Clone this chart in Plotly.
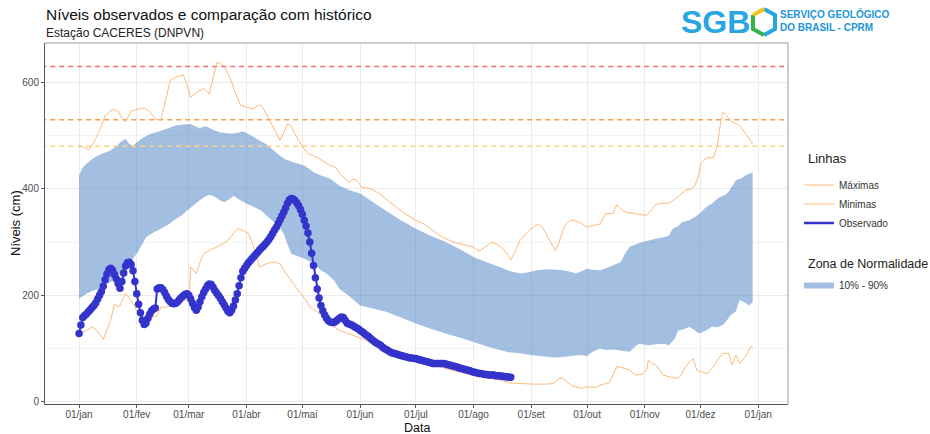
import pandas as pd
import plotly.graph_objects as go

# ---------------- data ----------------
base_date = "2025-01-01"

obs_values = [128, 144, 158, 162, 165, 169, 173, 177, 181, 186, 193, 200, 207, 217, 229, 240, 248, 251, 247, 239,
              231, 222, 213, 226, 242, 255, 261, 262, 258, 246, 226, 203, 183, 167, 153, 145, 148, 157, 165, 171,
              174, 176, 212, 214, 214, 211, 205, 198, 192, 188, 185, 184, 185, 188, 192, 196, 199, 202, 203, 200,
              193, 185, 177, 172, 178, 188, 197, 205, 212, 218, 221, 220, 215, 209, 204, 199, 194, 188, 182, 176,
              170, 167, 172, 180, 191, 203, 218, 233, 245, 251, 256, 261, 265, 269, 273, 277, 281, 285, 289, 292,
              296, 300, 305, 310, 316, 322, 328, 335, 342, 349, 356, 364, 373, 379, 382, 381, 378, 374, 368, 361,
              352, 341, 330, 317, 300, 279, 256, 233, 212, 195, 181, 171, 163, 157, 152, 150, 149, 149, 151, 154,
              157, 159, 158, 153, 148, 146, 145, 143, 141, 139, 137, 134, 132, 129, 126, 124, 121, 118, 115, 112,
              110, 108, 106, 103, 100, 98, 96, 94, 92, 91, 90, 89, 88, 87, 86, 85, 84, 83, 82, 82,
              81, 81, 80, 79, 78, 77, 76, 75, 74, 73, 72, 72, 72, 72, 72, 72, 72, 71, 70, 69,
              68, 67, 66, 65, 64, 63, 62, 61, 60, 59, 58, 57, 56, 55, 54, 53, 53, 52, 51, 51,
              50, 50, 50, 50, 49, 49, 49, 48, 48, 47, 47, 46, 46]

upper_days = [0, 2, 4, 7, 10, 13, 17, 20, 23, 25, 27, 29, 31, 34, 38, 41, 44, 48, 52, 56, 60, 62, 65, 67, 69, 72,
              76, 80, 83, 86, 88, 91, 94, 97, 101, 104, 108, 111, 115, 118, 121, 124, 126, 130, 135, 140, 145, 151,
              158, 165, 173, 181, 189, 197, 205, 212, 219, 226, 231, 237, 241, 246, 251, 256, 260, 264, 267, 270,
              273, 276, 280, 285, 288, 291, 294, 296, 301, 306, 310, 314, 317, 319, 322, 324, 328, 331, 334, 337,
              340, 344, 347, 349, 351, 353, 356, 358, 360, 362]
upper_vals = [425, 440, 447, 456, 462, 467, 472, 480, 490, 494, 484, 481, 487, 495, 503, 506, 509, 514, 519, 521,
              522, 518, 514, 517, 516, 511, 506, 504, 504, 506, 508, 503, 497, 491, 483, 474, 462, 455, 450, 447,
              444, 437, 431, 425, 419, 406, 398, 391, 375, 359, 341, 325, 312, 300, 286, 272, 262, 253, 246, 241,
              243, 247, 249, 248, 247, 244, 241, 245, 250, 248, 247, 253, 258, 262, 282, 291, 298, 303, 306, 309,
              312, 325, 330, 337, 341, 347, 355, 366, 372, 384, 388, 394, 405, 416, 420, 425, 428, 431]

lower_days = [0, 2, 4, 7, 10, 13, 17, 20, 24, 27, 31, 34, 36, 40, 44, 48, 51, 55, 58, 62, 65, 68, 70, 73, 76, 78,
              81, 83, 86, 90, 94, 98, 101, 105, 108, 110, 112, 114, 118, 121, 126, 130, 133, 137, 140, 145, 151,
              158, 165, 173, 181, 189, 197, 205, 212, 219, 226, 231, 237, 245, 250, 255, 260, 264, 267, 270, 273,
              276, 280, 283, 287, 291, 296, 299, 301, 306, 310, 314, 317, 320, 322, 325, 328, 331, 333, 337, 340,
              343, 346, 348, 350, 353, 355, 358, 360, 362]
lower_vals = [194, 198, 203, 208, 212, 218, 225, 233, 247, 260, 278, 296, 309, 318, 325, 333, 341, 350, 359, 370,
              379, 386, 389, 385, 378, 375, 381, 387, 380, 372, 366, 359, 349, 337, 327, 316, 296, 278, 273, 269,
              259, 247, 241, 228, 212, 199, 181, 175, 169, 158, 147, 137, 128, 120, 112, 104, 97, 93, 91, 87,
              85, 83, 84, 86, 87, 88, 86, 94, 100, 97, 98, 96, 94, 104, 109, 106, 108, 109, 106, 118,
              134, 136, 141, 134, 128, 134, 141, 140, 144, 152, 162, 170, 191, 186, 181, 187]

max_days = [0, 3, 5, 7, 9, 11, 14, 16, 18, 21, 23, 25, 27, 28, 31, 35, 38, 41, 44, 46, 49, 52, 56, 58, 60, 62, 64,
            66, 67, 70, 72, 74, 76, 78, 81, 84, 87, 90, 94, 96, 98, 100, 103, 106, 108, 110, 112, 114, 117, 120,
            123, 126, 128, 131, 135, 138, 141, 143, 145, 147, 149, 152, 157, 161, 165, 170, 174, 181, 186, 190,
            195, 201, 205, 208, 212, 215, 218, 222, 225, 228, 230, 232, 234, 237, 240, 242, 245, 247, 249, 252,
            256, 258, 260, 262, 264, 267, 270, 273, 276, 280, 283, 287, 289, 292, 294, 298, 301, 305, 308, 310,
            314, 317, 320, 323, 326, 329, 331, 333, 334, 337, 341, 343, 345, 346, 348, 350, 353, 355, 358, 362]
max_vals = [481, 478, 473, 482, 495, 510, 537, 543, 550, 545, 533, 526, 540, 546, 549, 552, 545, 531, 530, 560,
            603, 610, 614, 595, 572, 578, 583, 586, 589, 578, 610, 637, 636, 630, 610, 580, 556, 553, 550, 557,
            557, 545, 525, 505, 491, 505, 522, 518, 497, 480, 466, 462, 459, 452, 444, 440, 425, 420, 412, 418,
            417, 403, 400, 392, 381, 366, 356, 341, 333, 322, 310, 300, 297, 294, 290, 283, 290, 300, 295, 287,
            278, 266, 280, 303, 315, 322, 330, 334, 328, 309, 284, 300, 322, 335, 341, 340, 335, 328, 330, 334,
            353, 354, 370, 360, 356, 354, 353, 350, 362, 371, 373, 373, 380, 388, 397, 400, 406, 425, 447, 458,
            459, 480, 530, 544, 538, 528, 523, 519, 505, 484]

min_days = [0, 2, 4, 7, 10, 13, 15, 17, 19, 21, 22, 25, 27, 29, 31, 33, 36, 39, 42, 44, 47, 50, 53, 56, 59, 60, 62,
            63, 65, 67, 70, 74, 77, 80, 83, 85, 88, 91, 93, 95, 97, 100, 103, 106, 108, 111, 115, 118, 122, 124,
            128, 131, 134, 137, 140, 145, 151, 158, 165, 173, 181, 189, 197, 205, 212, 219, 226, 232, 237, 245,
            250, 255, 258, 260, 262, 265, 270, 273, 278, 280, 285, 287, 289, 293, 296, 299, 303, 305, 306, 308,
            310, 314, 318, 322, 324, 326, 328, 330, 332, 335, 338, 341, 343, 346, 349, 351, 353, 355, 358, 361, 362]
min_vals = [128, 131, 134, 141, 132, 117, 135, 153, 184, 178, 181, 203, 195, 184, 170, 159, 153, 158, 162, 178,
            178, 180, 186, 191, 191, 253, 245, 241, 262, 278, 284, 291, 296, 303, 315, 325, 322, 316, 300, 276,
            253, 258, 262, 262, 259, 242, 222, 208, 191, 178, 169, 160, 147, 140, 134, 128, 119, 110, 97, 87,
            78, 70, 62, 55, 50, 45, 41, 35, 34, 33, 33, 34, 44, 44, 38, 30, 25, 28, 27, 31,
            36, 50, 66, 63, 59, 50, 52, 60, 78, 72, 69, 50, 46, 44, 53, 66, 75, 81, 59, 55,
            53, 66, 78, 91, 91, 69, 88, 72, 84, 104, 102]

ref_levels = [630, 530, 480]
ref_colors = ["#F26C6E", "#F5A04E", "#FFD083"]

month_ticks = ["2025-01-01", "2025-02-01", "2025-03-01", "2025-04-01", "2025-05-01", "2025-06-01", "2025-07-01",
               "2025-08-01", "2025-09-01", "2025-10-01", "2025-11-01", "2025-12-01", "2026-01-01"]
month_labels = ["01/jan", "01/fev", "01/mar", "01/abr", "01/mai", "01/jun", "01/jul", "01/ago", "01/set",
                "01/out", "01/nov", "01/dez", "01/jan"]

# ---------------- helpers ----------------
b = pd.Timestamp(base_date)


def to_dates(days):
    return [b + pd.Timedelta(days=d) for d in days]


obs_dates = list(pd.date_range(base_date, periods=len(obs_values), freq="D"))

# page geometry (pixels)
W, H = 930, 434
L, R, T, B = 45, 788, 43, 404   # plot area
PW, PH = R - L, B - T


def px(x):
    return (x - L) / PW


def py(y):
    return (B - y) / PH


FONT = "Liberation Sans, Arial, sans-serif"
LINE_COL = "#FDBA7C"

fig = go.Figure()

# Band (10% - 90%)
band_x = to_dates(upper_days) + to_dates(lower_days)[::-1]
band_y = upper_vals + lower_vals[::-1]
fig.add_trace(go.Scatter(x=band_x, y=band_y, fill="toself", mode="none",
                         fillcolor="rgba(70,128,198,0.5)", name="10% - 90%",
                         legend="legend2", hoverinfo="skip"))

# reference dashed lines
x_full = [b + pd.Timedelta(days=-30), b + pd.Timedelta(days=400)]
for lev, col in zip(ref_levels, ref_colors):
    fig.add_trace(go.Scatter(x=x_full, y=[lev, lev], mode="lines",
                             line=dict(color=col, width=1.5, dash="5px,4px"),
                             showlegend=False, hoverinfo="skip"))

# max / min lines
fig.add_trace(go.Scatter(x=to_dates(max_days), y=max_vals, mode="lines",
                         line=dict(color=LINE_COL, width=1), name="Máximas", legend="legend"))
fig.add_trace(go.Scatter(x=to_dates(min_days), y=min_vals, mode="lines",
                         line=dict(color=LINE_COL, width=1), name="Minimas", legend="legend"))

# observed
fig.add_trace(go.Scatter(x=obs_dates, y=obs_values, mode="lines+markers",
                         line=dict(color="#3434CC", width=2),
                         marker=dict(color="#3434CC", size=7.5, line=dict(width=0)),
                         name="Observado", showlegend=False))
fig.add_trace(go.Scatter(x=[None], y=[None], mode="lines",
                         line=dict(color="#3434CC", width=2.5), name="Observado", legend="legend"))

x_range = [b + pd.Timedelta(days=-18.3), b + pd.Timedelta(days=381.0)]

fig.update_layout(
    width=W, height=H,
    margin=dict(l=L, r=W - R, t=T, b=H - B, autoexpand=False),
    paper_bgcolor="white", plot_bgcolor="white",
    font=dict(family=FONT, color="#4D4D4D", size=10),
    xaxis=dict(range=x_range, type="date", tickvals=month_ticks, ticktext=month_labels,
               showgrid=True, gridcolor="#EBEBEB", gridwidth=1,
               ticks="outside", ticklen=3, tickcolor="#555555", tickwidth=1,
               ticklabelstandoff=-2,
               showline=True, linecolor="#555555", linewidth=1,
               tickfont=dict(size=10, color="#4D4D4D"), zeroline=False, automargin=False),
    yaxis=dict(range=[-4.3, 674], tickvals=[0, 200, 400, 600],
               showgrid=True, gridcolor="#EBEBEB", gridwidth=1,
               minor=dict(tickvals=[100, 300, 500], showgrid=True, gridcolor="#F3F3F3", gridwidth=1, ticks=""),
               ticks="outside", ticklen=3, tickcolor="#555555", tickwidth=1,
               showline=True, linecolor="#555555", linewidth=1,
               tickfont=dict(size=10, color="#4D4D4D"), zeroline=False, automargin=False),
    legend=dict(x=px(799), y=py(170.5), xanchor="left", yanchor="top",
                font=dict(size=10, color="#333333"), bgcolor="rgba(0,0,0,0)",
                itemwidth=30, tracegroupgap=0),
    legend2=dict(x=px(799), y=py(271), xanchor="left", yanchor="top",
                 font=dict(size=10, color="#333333"), bgcolor="rgba(0,0,0,0)",
                 itemwidth=30),
    showlegend=True,
)

# top/right panel border
fig.add_shape(type="line", xref="paper", yref="paper", x0=0, x1=1, y0=1, y1=1,
              line=dict(color="#999999", width=1))
fig.add_shape(type="line", xref="paper", yref="paper", x0=1, x1=1, y0=0, y1=1,
              line=dict(color="#999999", width=1))

# titles
ann = []
ann.append(dict(text="Níveis observados e comparação com histórico", x=px(45), y=py(14),
                xanchor="left", yanchor="middle", font=dict(size=15.5, color="#111111")))
ann.append(dict(text="Estação CACERES (DNPVN)", x=px(45), y=py(33),
                xanchor="left", yanchor="middle", font=dict(size=12, color="#222222")))
ann.append(dict(text="Data", x=px(416.5), y=py(427.5), xanchor="center", yanchor="middle",
                font=dict(size=12.5, color="#111111")))
ann.append(dict(text="Níveis (cm)", x=px(15), y=py(223), xanchor="center", yanchor="middle",
                textangle=-90, font=dict(size=13, color="#111111")))
# legend titles
ann.append(dict(text="Linhas", x=px(807), y=py(158), xanchor="left", yanchor="middle",
                font=dict(size=13, color="#222222")))
ann.append(dict(text="Zona de Normalidade", x=px(807), y=py(264), xanchor="left", yanchor="middle",
                font=dict(size=12.5, color="#222222")))
# logo text
ann.append(dict(text="<b>SGB</b>", x=px(680), y=py(22), xanchor="left", yanchor="middle",
                font=dict(size=32, color="#27A6E1", family="Liberation Sans, Arial")))
ann.append(dict(text="<b>SERVIÇO GEOLÓGICO<br>DO BRASIL - CPRM</b>", x=px(779), y=py(21),
                xanchor="left", yanchor="middle", align="left",
                font=dict(size=10, color="#2196D8", family="Liberation Sans, Arial")))
for a in ann:
    a.update(xref="paper", yref="paper", showarrow=False, borderpad=0)
    fig.add_annotation(**a)

# logo hexagon
hx = [764, 775, 775, 764, 753, 753]
hy = [9, 15, 29, 35, 29, 15]
pts = [(px(x), py(y)) for x, y in zip(hx, hy)]


def seg_path(idx):
    p = [pts[i % 6] for i in idx]
    return "M " + " L ".join(f"{x},{y}" for x, y in p)


fig.add_shape(type="path", xref="paper", yref="paper", path=seg_path([0, 1, 2, 3]),
              line=dict(color="#27A6E1", width=4))
fig.add_shape(type="path", xref="paper", yref="paper", path=seg_path([3, 4, 5]),
              line=dict(color="#36B24A", width=4))
fig.add_shape(type="path", xref="paper", yref="paper", path=seg_path([5, 0]),
              line=dict(color="#F4C31A", width=4))

fig.write_html("out.html", config={"displayModeBar": False},
               post_script="document.body.style.margin='0px';")
